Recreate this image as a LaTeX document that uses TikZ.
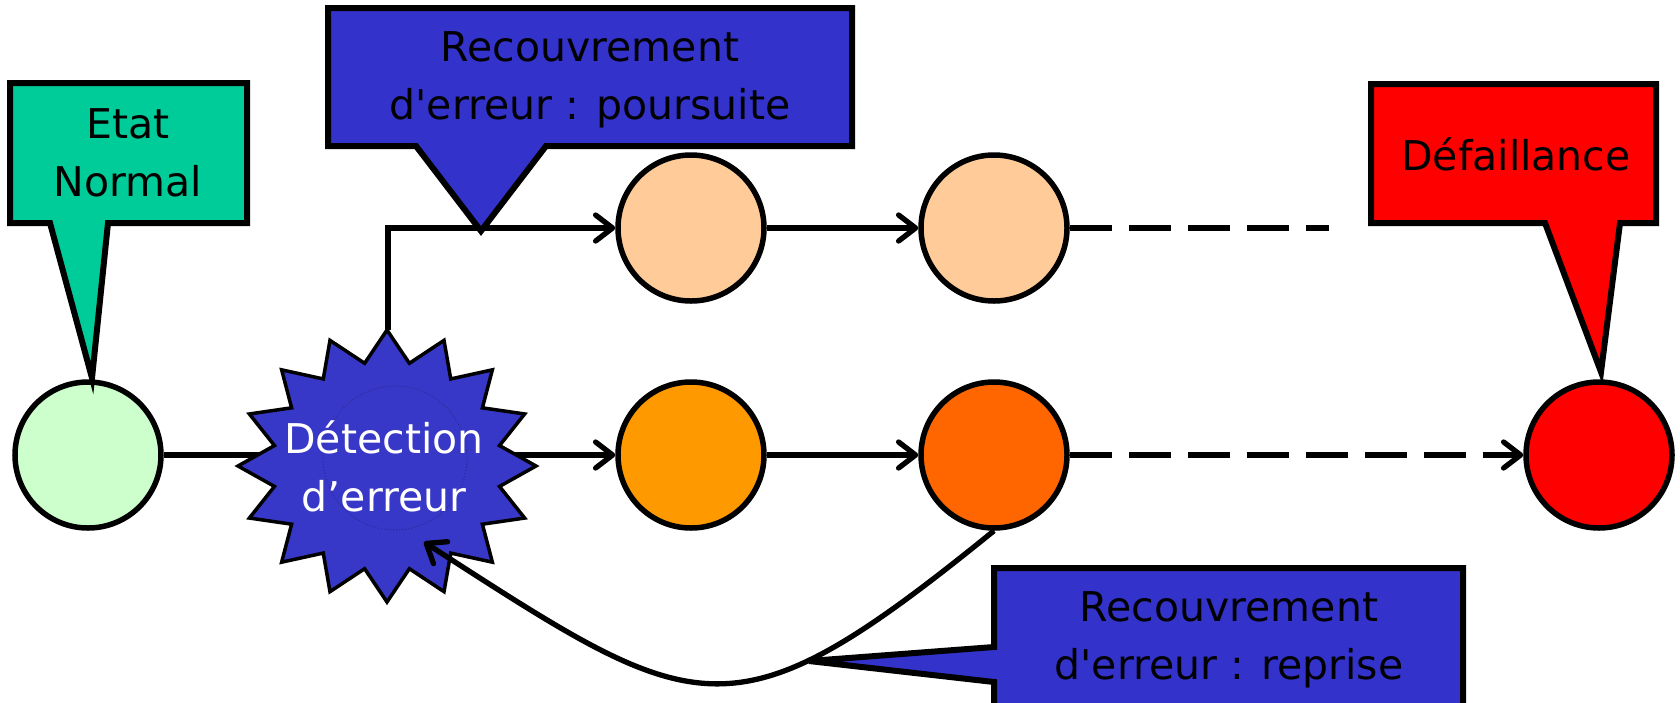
\documentclass[tikz,border=0pt]{standalone}
\usepackage{fontspec}
\setmainfont{DejaVu Sans}[Ligatures=TeXOff]
\usetikzlibrary{arrows.meta}
\definecolor{callgreen}{HTML}{00CC99}
\definecolor{lightgreen}{HTML}{CCFFCC}
\definecolor{peach}{HTML}{FFCC99}
\definecolor{orangeA}{HTML}{FF9900}
\definecolor{orangeB}{HTML}{FF6600}
\definecolor{redF}{HTML}{FF0000}
\definecolor{callblue}{HTML}{3333CC}
\definecolor{starblue}{HTML}{3838C8}
\begin{document}
\begin{tikzpicture}[x=1pt,y=-1pt,
  state/.style={circle,draw=black,line width=5.5pt,minimum size=146pt,inner sep=0pt},
  conn/.style={line width=5.3pt},
  arr/.style={conn,-{Straight Barb[length=17pt,width=26pt,line width=5.3pt,round]}},
  dsh/.style={dash pattern=on 42pt off 17pt},
  callbox/.style={draw=black,line width=6pt,line join=miter},
  lbl/.style={font=\fontsize{41}{58}\selectfont,align=center,text=black,inner sep=0pt}
]
\useasboundingbox (0,0) rectangle (1680,702);
\clip (0,0) rectangle (1680,702);

% states
\node[state,fill=lightgreen] (c0) at (88,455) {};
\node[state,fill=peach] (a1) at (691,228) {};
\node[state,fill=peach] (a2) at (994,228) {};
\node[state,fill=orangeA] (b1) at (691,455) {};
\node[state,fill=orangeB] (b2) at (994,455) {};
\node[state,fill=redF] (f) at (1599,455) {};

\coordinate (dettop) at (388,330);
\coordinate (detarr) at (424,542);
\coordinate (topend) at (1329,228);

% connectors
\draw[arr] (c0) -- (b1);
\draw[arr] (dettop) |- (a1);
\draw[arr] (a1) -- (a2);
\draw[conn,dsh] (a2) -- (topend);
\draw[arr] (b1) -- (b2);
\draw[arr,dsh] (b2) -- (f);

% star
\draw[fill=starblue,line width=3.5pt,line join=miter]
  ([shift={(387,466)}]90:149 and 136)
  \foreach \i in {1,...,31} {
    -- ([shift={(387,466)}]{90+11.25*\i}:{149*(1-0.23*mod(\i,2))} and {136*(1-0.23*mod(\i,2))})
  } -- cycle;
\draw[black,opacity=0.25,line width=1pt,dotted] (395,458) circle (72);
\node[lbl,text=white] (det) at (384,466) {Détection\\d’erreur};

\draw[arr] (b2.south) .. controls (730,745) and (700,720) .. (detarr);

% callouts
\draw[callbox,fill=callgreen] (10,83) -- (247,83) -- (247,223) -- (108,223) -- (92,378) -- (50,223) -- (10,223) -- cycle;
\node[lbl] (en) at (128,153) {Etat\\Normal};

\draw[callbox,fill=callblue] (328,8) -- (852,8) -- (852,146) -- (546,146) -- (481,231) -- (416,146) -- (328,146) -- cycle;
\node[lbl] (rp) at (590,80) {Recouvrement\\d'erreur : poursuite};

\draw[callbox,fill=redF] (1371,84) -- (1656,84) -- (1656,223) -- (1620,223) -- (1601,372) -- (1545,223) -- (1371,223) -- cycle;
\node[lbl] (df) at (1516,154) {Défaillance};

\draw[callbox,fill=callblue] (994,568) -- (1463,568) -- (1463,730) -- (994,730) -- (994,682) -- (809,661) -- (994,647) -- cycle;
\node[lbl] (rr) at (1229,640) {Recouvrement\\d'erreur : reprise};
\end{tikzpicture}
\end{document}
